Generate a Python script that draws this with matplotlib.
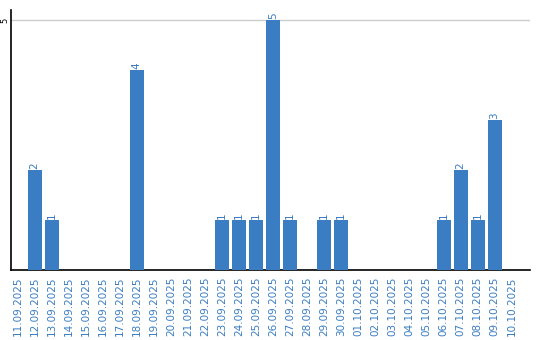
import matplotlib.pyplot as plt
import numpy as np

dates = ["11.09.2025", "12.09.2025", "13.09.2025", "14.09.2025", "15.09.2025",
         "16.09.2025", "17.09.2025", "18.09.2025", "19.09.2025", "20.09.2025",
         "21.09.2025", "22.09.2025", "23.09.2025", "24.09.2025", "25.09.2025",
         "26.09.2025", "27.09.2025", "28.09.2025", "29.09.2025", "30.09.2025",
         "01.10.2025", "02.10.2025", "03.10.2025", "04.10.2025", "05.10.2025",
         "06.10.2025", "07.10.2025", "08.10.2025", "09.10.2025", "10.10.2025"]
counts = [0, 2, 1, 0, 0, 0, 0, 4, 0, 0,
          0, 0, 1, 1, 1, 5, 1, 0, 1, 1,
          0, 0, 0, 0, 0, 1, 2, 1, 3, 0]

blue = "#3a7dc2"

fig = plt.figure(figsize=(5.4, 3.4), dpi=100)
ax = fig.add_axes([0.0195, 0.206, 0.9615, 0.764])

x = np.arange(len(dates))
ax.bar(x, counts, width=0.82, color=blue, zorder=3)

# value labels above bars
for xi, c in zip(x, counts):
    if c > 0:
        ax.text(xi, c + 0.03, str(c), rotation=90, ha="center", va="bottom",
                color=blue, fontsize=7.5)

ax.set_xlim(-0.41, 30.06)
ax.set_ylim(0, 5.2)
ax.set_yticks([5])
ax.set_yticklabels(["5"], rotation=90, va="center", fontsize=6)
ax.tick_params(axis="y", length=0, pad=0.5)
ax.axhline(5, color="#cccccc", lw=1, zorder=1)

ax.set_xticks(x)
ax.set_xticklabels(dates, rotation=90, color=blue, fontsize=7.5)
ax.tick_params(axis="x", length=0, pad=5)

for s in ["top", "right"]:
    ax.spines[s].set_visible(False)
ax.spines["left"].set_linewidth(1.2)
ax.spines["bottom"].set_linewidth(1.2)

fig.savefig("out.png", dpi=100)
